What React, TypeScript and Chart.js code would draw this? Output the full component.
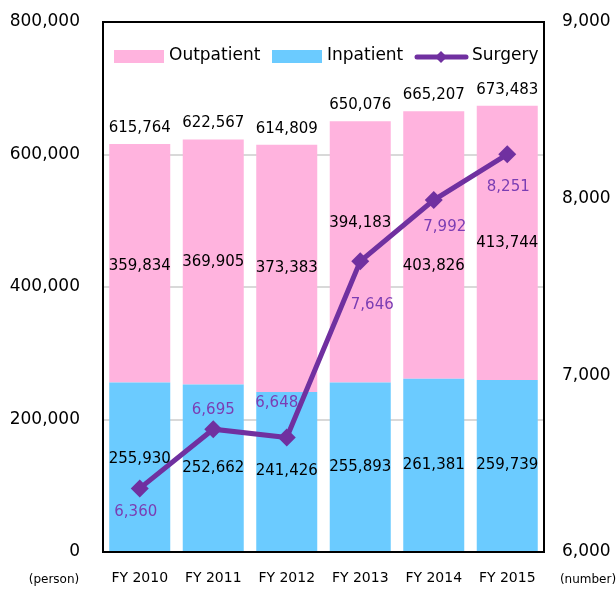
import React, { useEffect, useRef } from 'react';
import { Chart, registerables } from 'chart.js';

Chart.register(...registerables);

const categories = ['FY 2010', 'FY 2011', 'FY 2012', 'FY 2013', 'FY 2014', 'FY 2015'];
const outpatient = [359834, 369905, 373383, 394183, 403826, 413744];
const inpatient = [255930, 252662, 241426, 255893, 261381, 259739];
const totals = [615764, 622567, 614809, 650076, 665207, 673483];
const surgery = [6360, 6695, 6648, 7646, 7992, 8251];
const leftTicks = [0, 200000, 400000, 600000, 800000];
const rightTicks = [6000, 7000, 8000, 9000];

const PINK = '#FFB3DE';
const BLUE = '#6BCBFF';
const PURPLE = '#7030A0';
const PURPLE_TEXT = '#7B3DB3';
const FONT = "'DejaVu Sans', Verdana, sans-serif";

// label nudges (styling only)
const outShift = [3, 0, 0, -29, 21, 0];
const inShift = [-8, 0, 0, 0, 0, 0];
const surgOffset: [number, number][] = [[-4, 24], [0, -19], [-10, -34], [12, 44], [11, 27], [1, 33]];

const fmt = (v: number) => v.toLocaleString('en-US');

export default function App() {
  const ref = useRef<HTMLCanvasElement>(null);

  useEffect(() => {
    document.body.style.margin = '0';
    const overlay = {
      id: 'overlay',
      afterDatasetsDraw(chart: any) {
        const ctx = chart.ctx as CanvasRenderingContext2D;
        const area = chart.chartArea;
        ctx.save();
        // box
        ctx.strokeStyle = '#000';
        ctx.lineWidth = 2;
        ctx.strokeRect(area.left, area.top, area.right - area.left, area.bottom - area.top);

        ctx.textAlign = 'center';
        ctx.textBaseline = 'middle';
        const inMeta = chart.getDatasetMeta(0);
        const outMeta = chart.getDatasetMeta(1);
        const lineMeta = chart.getDatasetMeta(2);
        ctx.font = `15px ${FONT}`;
        ctx.fillStyle = '#000';
        for (let i = 0; i < categories.length; i++) {
          const ob = outMeta.data[i];
          const ib = inMeta.data[i];
          ctx.fillText(fmt(totals[i]), ob.x, ob.y - 16);
          ctx.fillText(fmt(outpatient[i]), ob.x, (ob.y + ob.base) / 2 + outShift[i]);
          ctx.fillText(fmt(inpatient[i]), ib.x, (ib.y + ib.base) / 2 + inShift[i]);
        }
        ctx.fillStyle = PURPLE_TEXT;
        for (let i = 0; i < surgery.length; i++) {
          const p = lineMeta.data[i];
          ctx.fillText(fmt(surgery[i]), p.x + surgOffset[i][0], p.y + surgOffset[i][1]);
        }

        // legend
        ctx.font = `17px ${FONT}`;
        ctx.textAlign = 'left';
        ctx.fillStyle = PINK;
        ctx.fillRect(114, 50, 50, 13);
        ctx.fillStyle = '#000';
        ctx.fillText(chart.data.datasets[1].label, 169, 56);
        ctx.fillStyle = BLUE;
        ctx.fillRect(272, 50, 50, 13);
        ctx.fillStyle = '#000';
        ctx.fillText(chart.data.datasets[0].label, 327, 56);
        ctx.strokeStyle = PURPLE;
        ctx.lineWidth = 5;
        ctx.lineCap = 'round';
        ctx.beginPath();
        ctx.moveTo(417, 57);
        ctx.lineTo(466, 57);
        ctx.stroke();
        ctx.fillStyle = PURPLE;
        ctx.beginPath();
        ctx.moveTo(441, 51);
        ctx.lineTo(447, 57);
        ctx.lineTo(441, 63);
        ctx.lineTo(435, 57);
        ctx.closePath();
        ctx.fill();
        ctx.fillStyle = '#000';
        ctx.fillText(chart.data.datasets[2].label, 472, 56);

        // units
        ctx.font = `12px ${FONT}`;
        ctx.textAlign = 'center';
        ctx.fillText('(person)', 54, 580);
        ctx.fillText('(number)', 588, 580);
        ctx.restore();
      },
    };

    const fitY = (w: number) => (s: any) => {
      s.width = w;
      s.paddingTop = 0;
      s.paddingBottom = 0;
    };

    const chart = new Chart(ref.current!, {
      type: 'bar',
      data: {
        labels: categories,
        datasets: [
          {
            type: 'bar',
            label: 'Inpatient',
            data: inpatient,
            backgroundColor: BLUE,
            yAxisID: 'y',
            order: 2,
            categoryPercentage: 1,
            barPercentage: 0.83,
          },
          {
            type: 'bar',
            label: 'Outpatient',
            data: outpatient,
            backgroundColor: PINK,
            yAxisID: 'y',
            order: 2,
            categoryPercentage: 1,
            barPercentage: 0.83,
          },
          {
            type: 'line',
            label: 'Surgery',
            data: surgery,
            borderColor: PURPLE,
            backgroundColor: PURPLE,
            borderWidth: 5,
            pointStyle: 'rectRot',
            pointRadius: 9,
            pointBorderWidth: 0,
            yAxisID: 'y1',
            order: 0,
            tension: 0,
          } as any,
        ],
      },
      options: {
        responsive: false,
        animation: false,
        layout: { padding: { top: 22, left: 0, right: 0, bottom: 0 } },
        plugins: { legend: { display: false }, tooltip: { enabled: false }, title: { display: false } },
        font: { family: FONT },
        scales: {
          x: {
            stacked: true,
            grid: { display: false, drawTicks: false },
            border: { display: false },
            ticks: { color: '#000', font: { family: FONT, size: 14 }, padding: 18 },
            afterFit: (s: any) => { s.height = 38; s.paddingLeft = 0; s.paddingRight = 0; },
          },
          y: {
            stacked: true,
            position: 'left',
            min: leftTicks[0],
            max: leftTicks[leftTicks.length - 1],
            afterBuildTicks: (s: any) => { s.ticks = leftTicks.map((v) => ({ value: v })); },
            ticks: {
              color: '#000',
              font: { family: FONT, size: 17 },
              padding: 23,
              callback: (v: any) => fmt(Number(v)),
            },
            grid: { color: '#D9D9D9', lineWidth: 2, drawTicks: false },
            border: { display: false },
            afterFit: fitY(103),
          },
          y1: {
            position: 'right',
            min: rightTicks[0],
            max: rightTicks[rightTicks.length - 1],
            afterBuildTicks: (s: any) => { s.ticks = rightTicks.map((v) => ({ value: v })); },
            ticks: {
              color: '#000',
              font: { family: FONT, size: 17 },
              padding: 18,
              callback: (v: any) => fmt(Number(v)),
            },
            grid: { display: false, drawTicks: false },
            border: { display: false },
            afterFit: fitY(72),
          },
        },
      } as any,
      plugins: [overlay],
    });
    return () => chart.destroy();
  }, []);

  return (
    <div style={{ width: 616, height: 590 }}>
      <canvas ref={ref} width={616} height={590} style={{ display: 'block' }} />
    </div>
  );
}
